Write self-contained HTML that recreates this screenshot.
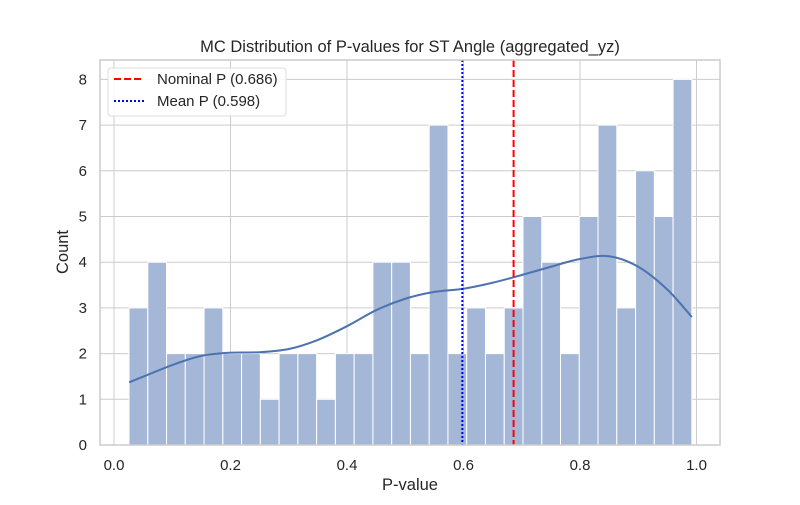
<!DOCTYPE html>
<html><head><meta charset="utf-8"><style>
body{margin:0;background:#fff;font-family:"Liberation Sans","DejaVu Sans",sans-serif}
</style></head><body>
<svg id="chart" width="800" height="500" xmlns="http://www.w3.org/2000/svg"></svg>
<script>
const counts=[3,4,2,2,3,2,2,1,2,2,1,2,2,4,4,2,7,2,3,2,3,5,4,2,5,7,3,6,5,8];
const binStart=0.0258, binEnd=0.992;
const kdeX=[0.026,0.1,0.15,0.2,0.25,0.3,0.35,0.4,0.45,0.5,0.55,0.6,0.65,0.7,0.75,0.8,0.85,0.9,0.95,0.992];
const kdeY=[1.37,1.75,1.95,2.02,2.03,2.1,2.3,2.6,2.95,3.2,3.35,3.42,3.55,3.72,3.9,4.07,4.13,3.9,3.4,2.8];
const xTicks=[0,0.2,0.4,0.6,0.8,1.0];
const yTicks=[0,1,2,3,4,5,6,7,8];
const nominalP=0.686, meanP=0.598;
const svg=document.getElementById('chart');
const NS='http://www.w3.org/2000/svg';
const L=100,R=720,T=60,B=445;
const X=v=>114+v*582.5, Y=v=>445-v*45.7;
function el(t,a,txt){const e=document.createElementNS(NS,t);for(const k in a)e.setAttribute(k,a[k]);if(txt!==undefined)e.textContent=txt;svg.appendChild(e);return e;}
xTicks.forEach(v=>{
 const g=el('line',{x1:X(v),x2:X(v),y1:T,y2:B,stroke:'#cccccc','stroke-width':1});
 
 
 const t=el('text',{x:X(v),y:470,'text-anchor':'middle','font-size':15,fill:'#262626'},v.toFixed(1));
 
 
});
yTicks.forEach(v=>{
 const g=el('line',{x1:L,x2:R,y1:Y(v),y2:Y(v),stroke:'#cccccc','stroke-width':1});
 
 
 const t=el('text',{x:87,y:Y(v)+5,'text-anchor':'end','font-size':15,fill:'#262626'},v);
 
 
});
const w=(binEnd-binStart)/counts.length;
counts.forEach((c,i)=>{
 const x0=X(binStart+i*w),x1=X(binStart+(i+1)*w);
 const r=el('rect',{x:x0,y:Y(c),width:x1-x0,height:Y(0)-Y(c),fill:'#a5b7d6',stroke:'#fff','stroke-width':1});
 
 
});
const P=kdeX.map((v,i)=>[X(v),Y(kdeY[i])]);
let d='M'+P[0][0]+','+P[0][1];
for(let i=0;i<P.length-1;i++){
 const p0=P[Math.max(0,i-1)],p1=P[i],p2=P[i+1],p3=P[Math.min(P.length-1,i+2)];
 const c1=[p1[0]+(p2[0]-p0[0])/6,p1[1]+(p2[1]-p0[1])/6],c2=[p2[0]-(p3[0]-p1[0])/6,p2[1]-(p3[1]-p1[1])/6];
 d+='C'+c1+' '+c2+' '+p2;
}
const k=el('path',{d:d,fill:'none',stroke:'#4c72b0','stroke-width':2});


const n=el('line',{x1:X(nominalP),x2:X(nominalP),y1:T,y2:B,stroke:'red','stroke-width':2,'stroke-dasharray':'7,3'});


const m=el('line',{x1:X(meanP),x2:X(meanP),y1:T,y2:B,stroke:'blue','stroke-width':2,'stroke-dasharray':'2,2'});


const f=el('rect',{x:L,y:T,width:R-L,height:B-T,fill:'none',stroke:'#cccccc','stroke-width':1.5});


const lg=el('rect',{x:108,y:68,width:178,height:48,rx:3,fill:'#fff','fill-opacity':0.85,stroke:'#dddddd'});


const l1=el('line',{x1:114,x2:144,y1:79,y2:79,stroke:'red','stroke-width':2,'stroke-dasharray':'7,3'});


const t1=el('text',{x:157,y:84,'font-size':15,fill:'#262626'},'Nominal P (0.686)');


const l2=el('line',{x1:114,x2:144,y1:101,y2:101,stroke:'blue','stroke-width':2,'stroke-dasharray':'2,2'});


const t2=el('text',{x:157,y:106,'font-size':15,fill:'#262626'},'Mean P (0.598)');


const ti=el('text',{x:410,y:52,'text-anchor':'middle','font-size':16.5,fill:'#262626'},'MC Distribution of P-values for ST Angle (aggregated_yz)');


const xl=el('text',{x:410,y:490,'text-anchor':'middle','font-size':16.5,fill:'#262626'},'P-value');


const yl=el('text',{x:0,y:0,'text-anchor':'middle','font-size':16.5,fill:'#262626',transform:'translate(68,252) rotate(-90)'},'Count');


</script>
</body></html>
